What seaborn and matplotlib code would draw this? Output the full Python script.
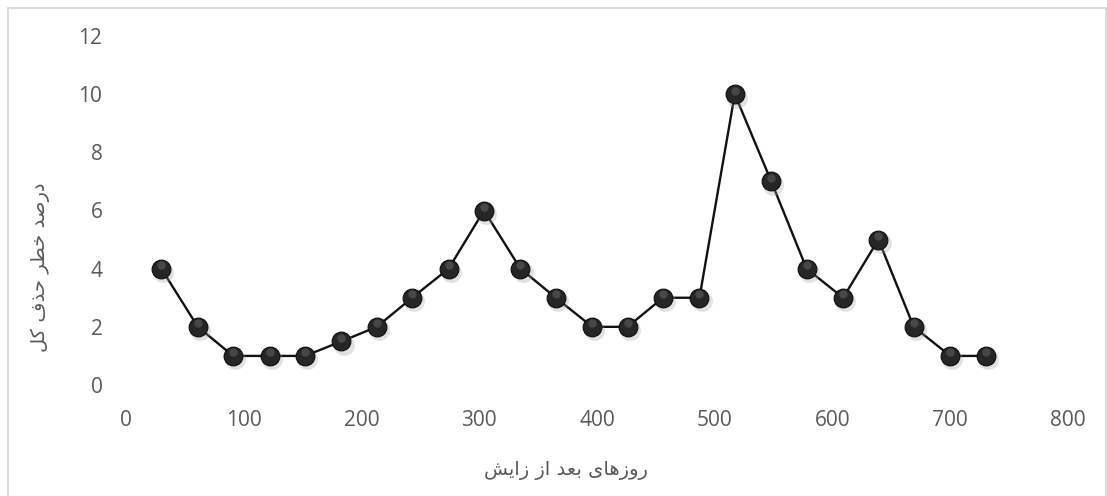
import numpy as np
import pandas as pd
import matplotlib
matplotlib.use("Agg")
import matplotlib.pyplot as plt
import matplotlib.transforms as mtransforms
from matplotlib.lines import Line2D
import seaborn as sns

# ---- data ----
days = [30, 61, 91, 122, 152, 183, 213, 243, 274, 304, 335, 365,
        396, 426, 456, 487, 517, 548, 578, 609, 639, 669, 700, 730]
risk = [4, 2, 1, 1, 1, 1.5, 2, 3, 4, 6, 4, 3,
        2, 2, 3, 3, 10, 7, 4, 3, 5, 2, 1, 1]
x_ticks = [0, 100, 200, 300, 400, 500, 600, 700, 800]
y_ticks = [0, 2, 4, 6, 8, 10, 12]
x_label = "روزهای بعد از زایش"
y_label = "درصد خطر حذف کل"

# ---- minimal Persian shaping (matplotlib has no RTL shaping) ----
FORMS = {  # isolated, final, initial, medial
    'ا': ('\uFE8D', '\uFE8E', None, None),
    'ب': ('\uFE8F', '\uFE90', '\uFE91', '\uFE92'),
    'ح': ('\uFEA1', '\uFEA2', '\uFEA3', '\uFEA4'),
    'خ': ('\uFEA5', '\uFEA6', '\uFEA7', '\uFEA8'),
    'د': ('\uFEA9', '\uFEAA', None, None),
    'ذ': ('\uFEAB', '\uFEAC', None, None),
    'ر': ('\uFEAD', '\uFEAE', None, None),
    'ز': ('\uFEAF', '\uFEB0', None, None),
    'ش': ('\uFEB5', '\uFEB6', '\uFEB7', '\uFEB8'),
    'ص': ('\uFEB9', '\uFEBA', '\uFEBB', '\uFEBC'),
    'ط': ('\uFEC1', '\uFEC2', '\uFEC3', '\uFEC4'),
    'ع': ('\uFEC9', '\uFECA', '\uFECB', '\uFECC'),
    'ف': ('\uFED1', '\uFED2', '\uFED3', '\uFED4'),
    'ل': ('\uFEDD', '\uFEDE', '\uFEDF', '\uFEE0'),
    'ه': ('\uFEE9', '\uFEEA', '\uFEEB', '\uFEEC'),
    'و': ('\uFEED', '\uFEEE', None, None),
    'ک': ('\uFB8E', '\uFB8F', '\uFB90', '\uFB91'),
    'ی': ('\uFBFC', '\uFBFD', '\uFBFE', '\uFBFF'),
}


def shape(text):
    out = []
    n = len(text)
    for i, ch in enumerate(text):
        if ch not in FORMS:
            out.append(ch)
            continue
        prev = text[i - 1] if i > 0 else None
        nxt = text[i + 1] if i < n - 1 else None
        join_prev = prev in FORMS and FORMS[prev][2] is not None
        join_next = nxt in FORMS and FORMS[ch][2] is not None
        iso, fin, ini, med = FORMS[ch]
        if join_prev and join_next:
            out.append(med)
        elif join_prev:
            out.append(fin)
        elif join_next:
            out.append(ini)
        else:
            out.append(iso)
    return "".join(out)[::-1]


df = pd.DataFrame({"days": days, "risk": risk})

sns.set_theme(style="white")
plt.rcParams["font.family"] = ["Open Sans", "DejaVu Sans"]

W, H = 1107, 496
fig = plt.figure(figsize=(W / 100, H / 100), dpi=100)
ax = fig.add_axes([126 / W, (H - 385) / H, 942 / W, 349 / H])

# line
sns.lineplot(data=df, x="days", y="risk", ax=ax, color="#111111",
             linewidth=1.7, zorder=2, legend=False)

# sphere-like markers: shadow, body, highlight
shadow_tr = mtransforms.offset_copy(ax.transData, fig=fig, x=1.5, y=-2.5, units="points")
ax.plot(df["days"], df["risk"], linestyle="none", marker="o", markersize=15,
        markerfacecolor="#a0a0a0", markeredgewidth=0, alpha=0.3,
        transform=shadow_tr, zorder=3)
ax.plot(df["days"], df["risk"], linestyle="none", marker="o", markersize=13.5,
        markerfacecolor="#262626", markeredgecolor="#0d0d0d",
        markeredgewidth=0.8, zorder=4)
hl_tr = mtransforms.offset_copy(ax.transData, fig=fig, x=0, y=2.6, units="points")
ax.plot(df["days"], df["risk"], linestyle="none", marker="o", markersize=6,
        markerfacecolor="#565656", markeredgewidth=0, alpha=0.7,
        transform=hl_tr, zorder=5)

ax.set_xlim(0, 800)
ax.set_ylim(0, 12)
ax.set_xticks(x_ticks)
ax.set_yticks(y_ticks)
ax.set_xticklabels([str(v) for v in x_ticks])
ax.set_yticklabels([str(v) for v in y_ticks])
ax.tick_params(axis="both", length=0, labelsize=15, colors="#595959")
ax.tick_params(axis="x", pad=18)
ax.tick_params(axis="y", pad=17)
for s in ax.spines.values():
    s.set_visible(False)
ax.grid(False)
ax.set_xlabel("")
ax.set_ylabel("")

fig.text(566 / W, 1 - 470 / H, shape(x_label), ha="center", va="center",
         fontsize=14, color="#595959", family=["DejaVu Sans"])
fig.text(40 / W, 1 - 267 / H, shape(y_label), ha="center", va="center",
         rotation=90, fontsize=14, color="#595959", family=["DejaVu Sans"])

# chart border
bc = "#d9d9d9"
fig.add_artist(Line2D([7.5 / W, 7.5 / W], [0, 1 - 7.5 / H], color=bc, lw=1.3,
                      transform=fig.transFigure))
fig.add_artist(Line2D([7.5 / W, 1 - 1 / W], [1 - 7.5 / H, 1 - 7.5 / H], color=bc,
                      lw=1.3, transform=fig.transFigure))
fig.add_artist(Line2D([1 - 1 / W, 1 - 1 / W], [0, 1 - 7.5 / H], color=bc, lw=1.3,
                      transform=fig.transFigure))

fig.savefig("out.png", dpi=100)
